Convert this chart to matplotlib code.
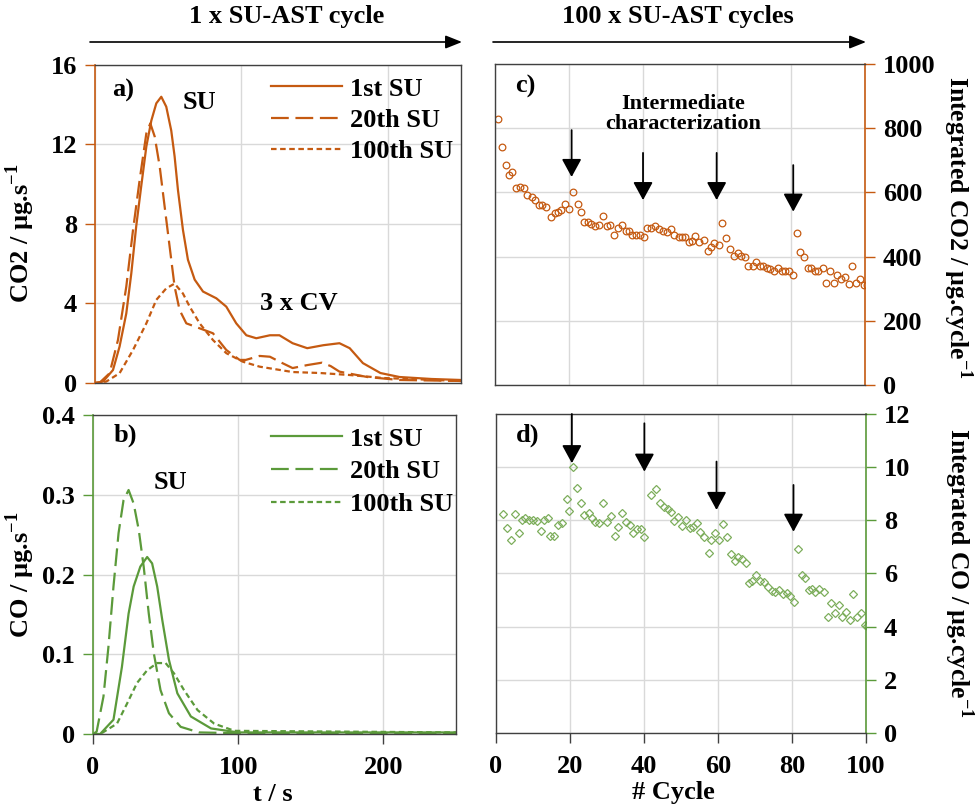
import numpy as np
import matplotlib
matplotlib.use('Agg')
import matplotlib.pyplot as plt
from matplotlib.patches import FancyArrowPatch

plt.rcParams['font.family'] = ['Liberation Serif', 'DejaVu Serif']
plt.rcParams['font.weight'] = 'bold'
plt.rcParams['axes.labelweight'] = 'bold'
plt.rcParams['font.size'] = 19
plt.rcParams['mathtext.fontset'] = 'custom'
plt.rcParams['mathtext.rm'] = 'Liberation Serif:bold'
plt.rcParams['mathtext.bf'] = 'Liberation Serif:bold'

ORANGE = '#C55A11'
GREEN = '#5B9A3A'
GREEN_LIGHT = '#7DAE5C'
FRAME = '#404040'
GRID = '#D9D9D9'

# ---- a) CO2 release during one SU-AST cycle
co2_1st_t = [0, 5.5, 12.3, 16.8, 21.4, 24.8, 28.2, 31.6, 35.1, 38.5, 41.9, 45.3, 48.7, 52.1, 54.4,
             56.7, 60.1, 63.5, 68.1, 73.8, 82.9, 89.7, 96.5, 103.4, 110.2, 119.5, 126, 135, 145, 156,
             167, 174, 183, 195, 208, 230, 250]
co2_1st = [0, 0.07, 0.65, 1.83, 3.5, 5.5, 7.9, 9.9, 11.9, 13.2, 14.07, 14.4, 13.9, 12.7, 11.4, 9.7,
           7.7, 6.2, 5.2, 4.6, 4.26, 3.84, 3.0, 2.4, 2.25, 2.4, 2.4, 2.0, 1.75, 1.9, 2.0, 1.75, 1.0,
           0.5, 0.3, 0.2, 0.15]
co2_20th_t = [0, 3, 10, 15.7, 21.4, 26, 30.5, 35.1, 37.8, 40.8, 44.2, 47.6, 51, 54.4, 57.8, 62.4,
              71.5, 80.6, 89.7, 98.8, 103, 112.5, 119.5, 128, 135, 145, 155, 161, 167, 186, 208, 250]
co2_20th = [0, 0, 0.49, 2.16, 4.85, 7.7, 10.2, 12.56, 13.06, 12.4, 10.9, 8.87, 6.86, 4.85, 3.67, 3.0,
            2.75, 2.5, 1.66, 1.16, 1.16, 1.36, 1.32, 1.0, 0.75, 0.9, 1.02, 0.85, 0.57, 0.3, 0.15, 0.1]
co2_100th_t = [0, 7.7, 16.8, 26, 35.1, 41.9, 48.7, 54.4, 60.1, 64.7, 71.5, 80.6, 89.7, 101, 112.5,
               135, 154, 174, 197, 250]
co2_100th = [0, 0.07, 0.49, 1.66, 3.0, 4.18, 4.76, 5.0, 4.5, 3.84, 3.0, 2.16, 1.5, 1.07, 0.82, 0.55,
             0.5, 0.4, 0.25, 0.1]

# ---- b) CO release during one SU-AST cycle
co_1st_t = [0, 4.9, 14.1, 19.9, 24.5, 28, 32.6, 37.3, 40.7, 44.2, 47.7, 52.3, 58.1, 67.4, 81.3,
            100, 250]
co_1st = [0, 0, 0.018, 0.084, 0.151, 0.185, 0.21, 0.222, 0.214, 0.185, 0.143, 0.093, 0.051, 0.022,
          0.007, 0.002, 0.002]
co_20th_t = [0, 2.5, 7.2, 10.6, 14.1, 17.6, 21, 24.5, 28, 31.5, 34.9, 38.4, 41.9, 46.5, 52.3, 60.4,
             73, 100, 250]
co_20th = [0, 0.003, 0.047, 0.109, 0.185, 0.252, 0.293, 0.306, 0.289, 0.256, 0.21, 0.151, 0.101,
           0.055, 0.026, 0.009, 0.002, 0.001, 0.001]
co_100th_t = [0, 5, 16.5, 23.4, 30.3, 37.3, 44.2, 50, 55.8, 62.7, 72, 83.5, 97.4, 250]
co_100th = [0, 0, 0.013, 0.038, 0.064, 0.08, 0.089, 0.089, 0.076, 0.055, 0.03, 0.013, 0.004, 0.002]

# ---- c) integrated CO2 per cycle
cyc_co2 = [0.9, 1.8, 2.9, 3.8, 4.7, 5.6, 6.8, 7.7, 8.6, 10, 10.9, 11.8, 12.7, 13.9, 15, 16.1, 17, 17.9,
           18.8, 20, 21.2, 22.3, 23.2, 24, 25, 25.9, 27.1, 28.2, 29.3, 30.2, 31.1, 32.1, 33.2, 34.3,
           35.3, 36.2, 37.1, 38, 39.2, 40.3, 41.2, 42.1, 43.2, 44.4, 45.5, 46.6, 47.5, 48.4, 49.6,
           50.5, 51.4, 52.3, 53.2, 54.1, 55.2, 56.4, 57.5, 58.4, 59.3, 60.5, 61.4, 62.5, 63.4, 64.6,
           65.7, 66.6, 67.5, 68.4, 69.6, 70.5, 71.6, 72.5, 73.4, 74.3, 75.3, 76.4, 77.5, 78.4, 79.4,
           80.6, 81.5, 82.5, 83.6, 84.5, 85.4, 86.5, 87.4, 88.6, 89.5, 90.6, 91.5, 92.5, 93.6, 94.7,
           95.6, 96.6, 97.5, 98.6, 99.7, 100.4]
int_co2 = [828, 742, 685, 654, 664, 615, 618, 613, 592, 587, 576, 561, 561, 555, 522, 535, 540, 545,
           564, 547, 602, 564, 538, 509, 509, 503, 496, 498, 526, 496, 498, 467, 490, 498, 480, 480,
           467, 467, 467, 461, 490, 490, 495, 487, 480, 476, 486, 467, 460, 460, 460, 445, 449, 463,
           444, 452, 418, 431, 443, 436, 506, 457, 424, 403, 412, 403, 400, 372, 372, 382, 372, 372,
           366, 360, 356, 366, 356, 356, 356, 343, 473, 413, 400, 366, 366, 356, 356, 366, 319, 356,
           319, 343, 329, 335, 315, 372, 319, 331, 311, 311]

# ---- d) integrated CO per cycle
cyc_co = [1.8, 2.9, 4.0, 5.0, 6.1, 7.0, 7.9, 9.0, 9.9, 11.1, 12.1, 13.1, 14.0, 14.6, 15.7, 16.8, 17.9,
          19.1, 19.8, 20.9, 22.0, 23.0, 23.9, 25.0, 25.9, 26.8, 27.9, 28.9, 30.0, 31.1, 32.1, 33.0,
          34.1, 35.0, 36.1, 37.1, 38.2, 39.1, 40.0, 42.0, 43.2, 44.3, 45.3, 46.4, 47.3, 48.2, 49.3,
          50.3, 51.4, 52.3, 53.2, 54.3, 55.2, 56.2, 57.6, 58.2, 59.1, 60.2, 61.4, 62.5, 63.4, 64.5,
          65.4, 66.5, 67.5, 68.4, 69.3, 70.4, 71.3, 72.5, 73.4, 74.5, 75.4, 76.5, 77.5, 78.6, 79.5,
          80.6, 81.6, 82.7, 83.6, 84.5, 85.4, 86.3, 87.4, 88.6, 89.7, 90.6, 91.5, 92.7, 93.6, 94.7,
          95.7, 96.5, 97.5, 98.6, 99.7, 100.4]
int_co = [8.24, 7.72, 7.26, 8.24, 7.51, 8.01, 8.08, 8.01, 8.01, 7.97, 7.60, 8.01, 8.08, 7.42, 7.42,
          7.82, 7.89, 8.79, 8.35, 10.0, 9.23, 8.64, 8.20, 8.26, 8.08, 7.93, 7.89, 8.64, 7.93, 8.16,
          7.42, 7.76, 8.26, 7.93, 7.82, 7.51, 7.66, 7.66, 7.36, 8.95, 9.18, 8.66, 8.51, 8.43, 8.33,
          7.99, 8.14, 7.79, 8.01, 7.70, 7.74, 7.91, 7.57, 7.38, 6.78, 7.26, 7.51, 7.26, 7.85, 7.38,
          6.73, 6.48, 6.63, 6.55, 6.38, 5.65, 5.73, 5.94, 5.73, 5.67, 5.50, 5.34, 5.32, 5.38, 5.22,
          5.25, 5.15, 4.92, 6.91, 5.94, 5.82, 5.38, 5.42, 5.29, 5.40, 5.32, 4.38, 4.88, 4.53, 4.82,
          4.38, 4.56, 4.25, 5.22, 4.38, 4.53, 4.06, 4.03]

# intermediate characterization arrows: (cycle, top, tip)
arrows_c = [(20.7, 794, 648), (40, 723, 576), (59.9, 723, 576), (80.6, 685, 540)]
arrows_d = [(20.5, 12.0, 10.15), (40.1, 11.65, 9.83), (59.6, 10.21, 8.39), (80.4, 9.33, 7.57)]

labels = ['1st SU', '20th SU', '100th SU']
styles = [dict(ls='-'), dict(ls=(0, (8, 3))), dict(ls=(0, (2.5, 1.6)))]

fig = plt.figure(figsize=(9.76, 8.1), dpi=100)
ax_a = fig.add_axes([0.0973, 0.5272, 0.375, 0.3926])
ax_b = fig.add_axes([0.0953, 0.0938, 0.3719, 0.3938])
ax_c = fig.add_axes([0.5072, 0.5247, 0.3791, 0.3963])
ax_d = fig.add_axes([0.5082, 0.0951, 0.3791, 0.3938])


def frame(ax, color, side):
    for s in ax.spines.values():
        s.set_color(FRAME)
        s.set_linewidth(1.0)
    ax.spines[side].set_color(color)
    ax.spines[side].set_linewidth(1.2)
    ax.grid(True, color=GRID, lw=1.0)
    ax.set_axisbelow(True)
    ax.tick_params(axis='y', which='both', direction='out', length=7, width=1.0, color=color, pad=6,
                   left=(side == 'left'), right=(side == 'right'),
                   labelleft=(side == 'left'), labelright=(side == 'right'))
    ax.tick_params(axis='x', direction='out', length=7, width=1.0, color=FRAME, pad=9)


# a)
for t, v, lab, st in zip([co2_1st_t, co2_20th_t, co2_100th_t], [co2_1st, co2_20th, co2_100th], labels, styles):
    ax_a.plot(t, v, color=ORANGE, lw=1.6, label=lab, **st)
ax_a.set_xlim(0, 250)
ax_a.set_ylim(0, 16)
ax_a.set_xticks([0, 100, 200])
ax_a.set_yticks([0, 4, 8, 12, 16])
frame(ax_a, ORANGE, 'left')
ax_a.tick_params(axis='x', bottom=False, labelbottom=False)
ax_a.set_ylabel(r'CO2 / µg.s$^{\mathbf{-1}}$', va='center')
ax_a.yaxis.set_label_coords(-0.205, 0.47)
ax_a.legend(loc='upper left', bbox_to_anchor=(0.43, 1.02), frameon=False, handlelength=2.7,
            handletextpad=0.3, labelspacing=0.3, borderpad=0.2, prop={'size': 19, 'weight': 'bold'})
ax_a.text(12, 14.7, 'a)', va='center', ha='left')
ax_a.text(60, 14.1, 'SU', va='center', ha='left')
ax_a.text(139, 4.0, '3 x CV', va='center', ha='center')

# b)
for t, v, lab, st in zip([co_1st_t, co_20th_t, co_100th_t], [co_1st, co_20th, co_100th], labels, styles):
    ax_b.plot(t, v, color=GREEN, lw=1.6, label=lab, **st)
ax_b.set_xlim(0, 250)
ax_b.set_ylim(0, 0.4)
ax_b.set_xticks([0, 100, 200])
ax_b.set_yticks([0, 0.1, 0.2, 0.3, 0.4])
ax_b.set_yticklabels(['0', '0.1', '0.2', '0.3', '0.4'])
frame(ax_b, GREEN, 'left')
ax_b.set_ylabel(r'CO / µg.s$^{\mathbf{-1}}$', va='center')
ax_b.yaxis.set_label_coords(-0.2, 0.5)
ax_b.set_xlabel('t / s')
ax_b.xaxis.set_label_coords(0.496, -0.155)
ax_b.legend(loc='upper left', bbox_to_anchor=(0.44, 1.02), frameon=False, handlelength=2.7,
            handletextpad=0.3, labelspacing=0.35, borderpad=0.2, prop={'size': 19, 'weight': 'bold'})
ax_b.text(14, 0.375, 'b)', va='center', ha='left')
ax_b.text(53.5, 0.316, 'SU', va='center', ha='center')

# c)
ax_c.plot(cyc_co2, int_co2, ls='none', marker='o', ms=4.8, mfc='none', mec=ORANGE, mew=0.9)
ax_c.set_xlim(0, 100)
ax_c.set_ylim(0, 1000)
ax_c.set_xticks([0, 20, 40, 60, 80, 100])
ax_c.set_yticks([0, 200, 400, 600, 800, 1000])
frame(ax_c, ORANGE, 'right')
ax_c.tick_params(axis='x', bottom=False, labelbottom=False)
ax_c.yaxis.set_label_position('right')
ax_c.set_ylabel(r'Integrated CO2 / µg.cycle$^{\mathbf{-1}}$', rotation=270, va='center', fontsize=18.5)
ax_c.yaxis.set_label_coords(1.25, 0.49)
ax_c.text(5.5, 930, 'c)', va='center', ha='left')
ax_c.text(50.8, 844, 'Intermediate\ncharacterization', ha='center', va='center', fontsize=16,
          linespacing=1.05)
for x, top, tip in arrows_c:
    ax_c.annotate('', xy=(x, tip), xytext=(x, top),
                  arrowprops=dict(arrowstyle='-|>,head_length=1.1,head_width=0.6', color='black',
                                  lw=1.3, shrinkA=0, shrinkB=0, mutation_scale=10))

# d)
ax_d.plot(cyc_co, int_co, ls='none', marker='D', ms=4.2, mfc='none', mec=GREEN_LIGHT, mew=0.9)
ax_d.set_xlim(0, 100)
ax_d.set_ylim(0, 12)
ax_d.set_xticks([0, 20, 40, 60, 80, 100])
ax_d.set_yticks([0, 2, 4, 6, 8, 10, 12])
frame(ax_d, GREEN, 'right')
ax_d.yaxis.set_label_position('right')
ax_d.set_ylabel(r'Integrated CO / µg.cycle$^{\mathbf{-1}}$', rotation=270, va='center', fontsize=18.5)
ax_d.yaxis.set_label_coords(1.25, 0.5)
ax_d.set_xlabel('# Cycle')
ax_d.xaxis.set_label_coords(0.48, -0.15)
ax_d.text(5.5, 11.2, 'd)', va='center', ha='left')
for x, top, tip in arrows_d:
    ax_d.annotate('', xy=(x, tip), xytext=(x, top),
                  arrowprops=dict(arrowstyle='-|>,head_length=1.1,head_width=0.6', color='black',
                                  lw=1.3, shrinkA=0, shrinkB=0, mutation_scale=10))

# header arrows and titles
for x0, x1, xt, txt in [(90, 462, 287, '1 x SU-AST cycle'), (493, 866, 678, '100 x SU-AST cycles')]:
    fig.add_artist(FancyArrowPatch((x0 / 976, 1 - 42 / 810), (x1 / 976, 1 - 42 / 810),
                                   transform=fig.transFigure, arrowstyle='-|>,head_length=1.0,head_width=0.4',
                                   mutation_scale=10, color='black', lw=1.2, shrinkA=0, shrinkB=0))
    fig.text(xt / 976, 1 - 17 / 810, txt, ha='center', va='center', fontsize=19)

fig.savefig('out.png', dpi=100)
